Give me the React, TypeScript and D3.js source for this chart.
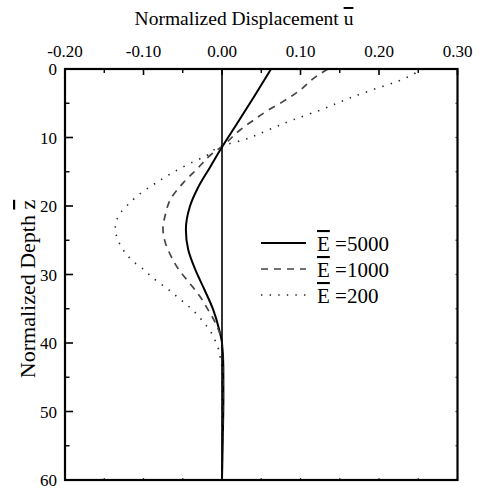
import React from "react";
import * as d3 from "d3";

const xTicks = [-0.2, -0.1, 0.0, 0.1, 0.2, 0.3];
const xMinorTicks = [-0.15, -0.05, 0.05, 0.15, 0.25];
const yTicks = [0, 10, 20, 30, 40, 50, 60];
const yMinorTicks = [5, 15, 25, 35, 45, 55];

const seriesNames = ["5000", "1000", "200"];

const depthE5000 = [0, 4, 8, 11.4, 14.3, 17.2, 20.1, 23.5, 26.4, 29.3, 32.3, 35.2, 38.1, 40, 43.5, 48, 54, 60];
const dispE5000 = [0.0625, 0.041, 0.019, 0, -0.015, -0.03, -0.041, -0.046, -0.043, -0.034, -0.022, -0.011, -0.0035, 0, 0.0017, 0.0018, 0.001, 0];

const depthE1000 = [0, 1, 3.3, 4.8, 6, 7.4, 8.9, 11.3, 12.3, 14.5, 16.7, 19.1, 21.2, 23.3, 25.2, 27.3, 29.3, 31.3, 33.2, 35.2, 37.4, 40, 45, 60];
const dispE1000 = [0.135, 0.121, 0.097, 0.077, 0.059, 0.041, 0.023, 0, -0.012, -0.031, -0.05, -0.066, -0.072, -0.0752, -0.0726, -0.065, -0.055, -0.041, -0.028, -0.0175, -0.007, 0, 0.001, 0];

const depthE200 = [0, 1.85, 3.1, 4.5, 6.0, 7.4, 8.9, 10.4, 11.2, 12.6, 13.8, 15.2, 16.7, 18.4, 19.5, 20.8, 22.0, 23.3, 24.5, 25.8, 27.1, 28.3, 29.3, 30.5, 31.4, 32.4, 33.4, 34.5, 35.7, 36.9, 38.2, 39.4, 40.7, 42.0, 43.2, 45, 60];
const dispE200 = [0.256, 0.2225, 0.19, 0.157, 0.125, 0.091, 0.059, 0.026, 0, -0.019, -0.041, -0.064, -0.085, -0.1066, -0.117, -0.128, -0.134, -0.136, -0.134, -0.129, -0.1215, -0.111, -0.0994, -0.088, -0.0777, -0.066, -0.0557, -0.044, -0.033, -0.024, -0.0153, -0.0098, -0.005, -0.0025, -0.0004, 0.0005, 0];

const FONT = "'Liberation Serif', 'Times New Roman', serif";

export default function App() {
  const left = 65, right = 457.5, top = 69, bottom = 480;
  const x = d3.scaleLinear().domain([-0.2, 0.3]).range([left, right]);
  const y = d3.scaleLinear().domain([0, 60]).range([top, bottom]);

  const line = d3
    .line<[number, number]>()
    .x((d) => x(d[1]))
    .y((d) => y(d[0]))
    .curve(d3.curveMonotoneY);

  const zip = (a: number[], b: number[]) => a.map((v, i) => [v, b[i]] as [number, number]);

  const series = [
    { name: seriesNames[0], data: zip(depthE5000, dispE5000), stroke: "#000", width: 2, dash: undefined as string | undefined },
    { name: seriesNames[1], data: zip(depthE1000, dispE1000), stroke: "#444", width: 1.7, dash: "7,6" },
    { name: seriesNames[2], data: zip(depthE200, dispE200), stroke: "#222", width: 1.6, dash: "1.4,7.2" },
  ];

  const legendX1 = 261, legendX2 = 306, legendTextX = 317;
  const legendY = [243, 269, 295];
  const fmt = (t: number) => d3.format(".2f")(t).replace("\u2212", "-");
  const ts = { fontFamily: FONT };

  return (
    <svg width={480} height={491} style={{ position: "absolute", left: 0, top: 0, background: "#fff" }}>
      <rect x={0} y={0} width={480} height={491} fill="#fff" />
      <text x={244} y={25} fontSize={19.5} textAnchor="middle" fill="#000" style={ts}>
        Normalized Displacement <tspan textDecoration="overline">u</tspan>
      </text>
      <text transform={`translate(35,289) rotate(-90)`} fontSize={22} textAnchor="middle" fill="#000" style={ts}>
        Normalized Depth <tspan textDecoration="overline">z</tspan>
      </text>

      {series.map((s) => (
        <path
          key={s.name}
          d={line(s.data) || ""}
          fill="none"
          stroke={s.stroke}
          strokeWidth={s.width}
          strokeDasharray={s.dash}
        />
      ))}

      <line x1={x(0)} x2={x(0)} y1={top} y2={bottom} stroke="#000" strokeWidth={1.6} />

      {xTicks.map((t) => (
        <g key={"xt" + t}>
          <line x1={x(t)} x2={x(t)} y1={top} y2={top + 6} stroke="#000" strokeWidth={1.6} />
          <line x1={x(t)} x2={x(t)} y1={bottom} y2={bottom - 2} stroke="#333" strokeWidth={1.2} />
          <text x={x(t)} y={57} fontSize={17} textAnchor="middle" fill="#000" style={ts}>
            {fmt(t)}
          </text>
        </g>
      ))}
      {xMinorTicks.map((t) => (
        <g key={"xm" + t}>
          <line x1={x(t)} x2={x(t)} y1={top} y2={top + 4} stroke="#000" strokeWidth={1.4} />
          <line x1={x(t)} x2={x(t)} y1={bottom} y2={bottom - 2} stroke="#333" strokeWidth={1.2} />
        </g>
      ))}

      {yTicks.map((t) => (
        <g key={"yt" + t}>
          <line x1={left} x2={left + 8} y1={y(t)} y2={y(t)} stroke="#000" strokeWidth={1.6} />
          <line x1={right} x2={right - 2} y1={y(t)} y2={y(t)} stroke="#333" strokeWidth={1.2} />
          <text x={57} y={y(t) + 6} fontSize={17} textAnchor="end" fill="#000" style={ts}>
            {t}
          </text>
        </g>
      ))}
      {yMinorTicks.map((t) => (
        <g key={"ym" + t}>
          <line x1={left} x2={left + 4.5} y1={y(t)} y2={y(t)} stroke="#000" strokeWidth={1.4} />
          <line x1={right} x2={right - 2} y1={y(t)} y2={y(t)} stroke="#333" strokeWidth={1.2} />
        </g>
      ))}

      <rect x={left} y={top} width={right - left} height={bottom - top} fill="none" stroke="#000" strokeWidth={2.2} />

      {series.map((s, i) => (
        <g key={"lg" + s.name}>
          <line
            x1={legendX1}
            x2={legendX2}
            y1={legendY[i]}
            y2={legendY[i]}
            stroke={s.stroke}
            strokeWidth={s.width}
            strokeDasharray={s.dash}
          />
          <text x={legendTextX} y={legendY[i] + 8} fontSize={21} fill="#000" style={ts}>
            <tspan textDecoration="overline">E</tspan> =<tspan>{s.name}</tspan>
          </text>
        </g>
      ))}
    </svg>
  );
}
